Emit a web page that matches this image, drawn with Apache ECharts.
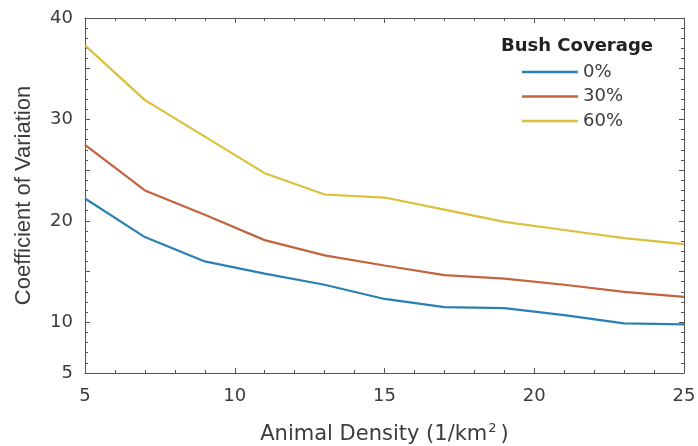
<!DOCTYPE html>
<html>
<head>
<meta charset="utf-8">
<script src="https://cdn.jsdelivr.net/npm/echarts@6/dist/echarts.min.js"></script>
<style>
html,body{margin:0;padding:0;background:#fff;}
#main{width:698px;height:446px;}
</style>
</head>
<body>
<div id="main"></div>
<script>
// animal density (1/km^2)
var densities = [5, 7, 9, 11, 13, 15, 17, 19, 21, 23, 25]
// coefficient of variation per bush coverage
var cv0 = [22.2, 18.4, 16.0, 14.8, 13.7, 12.3, 11.5, 11.4, 10.7, 9.9, 9.8]
var cv30 = [27.5, 23.0, 20.6, 18.1, 16.6, 15.6, 14.65, 14.3, 13.7, 13.0, 12.5]
var cv60 = [37.3, 31.9, 28.3, 24.7, 22.6, 22.3, 21.1, 19.9, 19.1, 18.3, 17.7]
var coverageNames = ['0%', '30%', '60%']
var yTickLabels = [5, 10, 20, 30, 40]

var colors = ['#2b80b3', '#c2643e', '#dcbf3c']
var font = 'DejaVu Sans'
var vfont = 'Liberation Sans'
var axisColor = '#555'
var textColor = '#3c3c3c'

function pairs(ys) {
  return densities.map(function (x, i) { return [x, ys[i]] })
}

var myChart = echarts.init(document.getElementById('main'))

var baseX = {
  type: 'value', min: 5, max: 25, interval: 5,
  axisLine: { show: true, lineStyle: { color: axisColor, width: 1 } },
  axisTick: { show: true, inside: true, length: 5, lineStyle: { color: axisColor } },
  minorTick: { show: true, splitNumber: 5, length: 3, lineStyle: { color: axisColor } },
  splitLine: { show: false }
}
var baseY = {
  type: 'value', min: 5, max: 40, interval: 5,
  axisLine: { show: true, lineStyle: { color: axisColor, width: 1 } },
  axisTick: { show: true, inside: true, length: 5, lineStyle: { color: axisColor } },
  minorTick: { show: true, splitNumber: 5, length: 3, lineStyle: { color: axisColor } },
  splitLine: { show: false }
}

var option = {
  animation: false,
  backgroundColor: '#fff',
  grid: { left: 85, right: 14, top: 18, bottom: 73, outerBoundsMode: 'none' },
  title: {
    text: 'Bush Coverage',
    left: 572, top: 32, textAlign: 'center',
    textStyle: { fontFamily: font, fontSize: 18, fontWeight: 'bold', color: '#222' }
  },
  legend: {
    orient: 'vertical',
    left: 517, top: 57,
    icon: 'rect',
    itemWidth: 56, itemHeight: 2.5, itemGap: 4.5,
    data: coverageNames,
    textStyle: { fontFamily: font, fontSize: 18, color: textColor, lineHeight: 20 }
  },
  xAxis: [
    Object.assign({}, baseX, {
      position: 'bottom',
      axisLabel: { fontFamily: font, fontSize: 18, color: textColor, margin: 14 },
      name: 'Animal Density (1/km{sup|2})',
      nameLocation: 'middle',
      nameGap: 49,
      nameTextStyle: {
        fontFamily: font, fontSize: 21, color: textColor,
        rich: { sup: { fontFamily: font, fontSize: 13, color: textColor, verticalAlign: 'top', padding: [0, 4, 12, 1] } }
      }
    }),
    Object.assign({}, baseX, { position: 'top', axisLabel: { show: false } })
  ],
  yAxis: [
    Object.assign({}, baseY, {
      position: 'left',
      axisLabel: { fontFamily: font, fontSize: 18, color: textColor, margin: 12, customValues: yTickLabels },
      name: 'Coefficient of Variation',
      nameLocation: 'middle',
      nameGap: 50,
      nameTextStyle: { fontFamily: vfont, fontSize: 22, color: textColor }
    }),
    Object.assign({}, baseY, { position: 'right', axisLabel: { show: false } })
  ],
  series: [
    { name: coverageNames[0], type: 'line', data: pairs(cv0), symbol: 'none', lineStyle: { width: 2.2, color: colors[0] }, itemStyle: { color: colors[0] } },
    { name: coverageNames[1], type: 'line', data: pairs(cv30), symbol: 'none', lineStyle: { width: 2.2, color: colors[1] }, itemStyle: { color: colors[1] } },
    { name: coverageNames[2], type: 'line', data: pairs(cv60), symbol: 'none', lineStyle: { width: 2.2, color: colors[2] }, itemStyle: { color: colors[2] } }
  ]
}

myChart.setOption(option)
</script>
</body>
</html>
